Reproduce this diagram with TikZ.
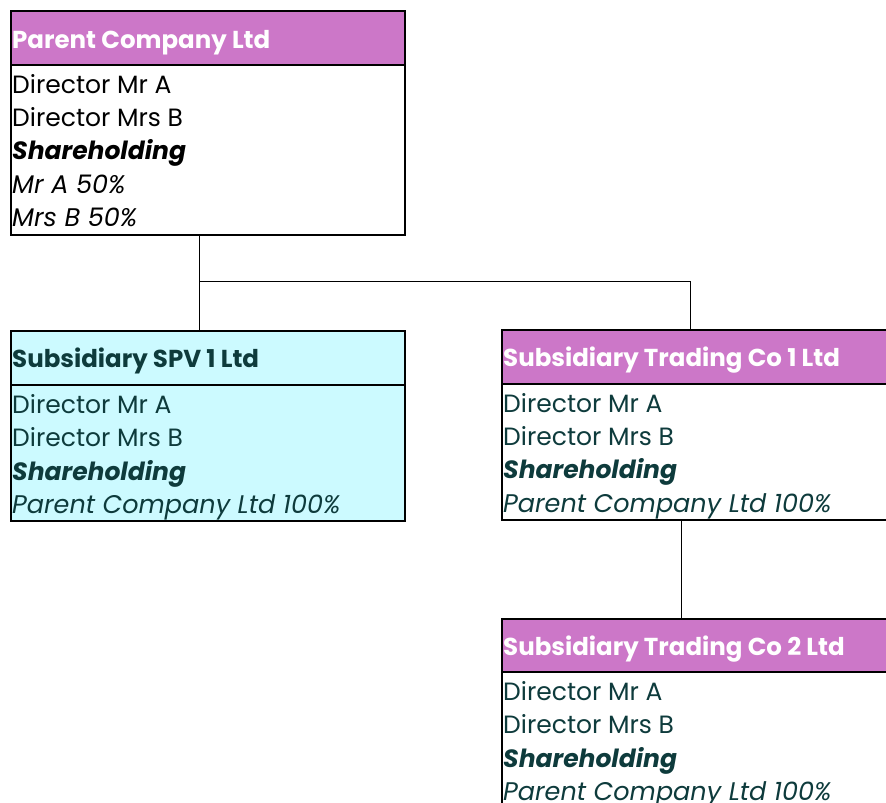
\documentclass[tikz,border=0pt]{standalone}
\usepackage{fontspec}
\setmainfont{Poppins}
\usetikzlibrary{calc}
\definecolor{hdrpink}{HTML}{CC77C8}
\definecolor{spvfill}{HTML}{CCFAFF}
\definecolor{teal}{HTML}{0E3B3C}
\begin{document}
\begin{tikzpicture}[x=1pt,y=-1pt,
  box/.style={draw=black,line width=2pt,anchor=north west,inner sep=0pt,minimum width=394pt},
  hdr/.style={draw=black,line width=2pt,anchor=north west,inner sep=0pt,minimum width=394pt,minimum height=54pt},
  htext/.style={anchor=base west,inner sep=0pt,font=\fontsize{24.5}{28}\selectfont\bfseries},
  btext/.style={anchor=base west,inner sep=0pt,font=\fontsize{25}{28}\selectfont},
  bitext/.style={anchor=base west,inner sep=0pt,font=\fontsize{25.5}{28}\selectfont\itshape},
  bbtext/.style={anchor=base west,inner sep=0pt,font=\fontsize{25}{28}\selectfont\bfseries\itshape},
  link/.style={draw=black,line width=1pt}]
\useasboundingbox (0,0) rectangle (886,803);
\clip (0,0) rectangle (886,803);
\fill[white] (0,0) rectangle (886,803);
% Parent
\node[box,fill=white,minimum height=224pt] (p) at (10,10) {};
\node[hdr,fill=hdrpink] (ph) at (10,10) {};
\node[htext,text=white] (pt) at (12,48) {Parent Company Ltd};
\node[btext,text=black] (p1) at (12,93) {Director Mr A};
\node[btext,text=black] (p2) at (12,126) {Director Mrs B};
\node[bbtext,text=black] (p3) at (12,159) {Shareholding};
\node[bitext,text=black] (p4) at (12,193) {Mr A 50\%};
\node[bitext,text=black] (p5) at (12,226) {Mrs B 50\%};
% SPV
\node[box,fill=spvfill,minimum height=190pt] (s) at (10,330) {};
\node[hdr,fill=spvfill] (sh) at (10,330) {};
\node[htext,text=teal] (st) at (12,367) {Subsidiary SPV 1 Ltd};
\node[btext,text=teal] (s1) at (12,413) {Director Mr A};
\node[btext,text=teal] (s2) at (12,446) {Director Mrs B};
\node[bbtext,text=teal] (s3) at (12,480) {Shareholding};
\node[bitext,text=teal] (s4) at (12,513) {Parent Company Ltd 100\%};
% Trading Co 1
\node[box,fill=white,minimum height=190pt] (t) at (501,329) {};
\node[hdr,fill=hdrpink] (th) at (501,329) {};
\node[htext,text=white] (tt) at (503,366) {Subsidiary Trading Co 1 Ltd};
\node[btext,text=teal] (t1) at (503,412) {Director Mr A};
\node[btext,text=teal] (t2) at (503,445) {Director Mrs B};
\node[bbtext,text=teal] (t3) at (503,478) {Shareholding};
\node[bitext,text=teal] (t4) at (503,512) {Parent Company Ltd 100\%};
% Trading Co 2
\node[box,fill=white,minimum height=250pt] (u) at (501,618) {};
\node[hdr,fill=hdrpink,minimum height=53pt] (uh) at (501,618) {};
\node[htext,text=white] (ut) at (503,655) {Subsidiary Trading Co 2 Ltd};
\node[btext,text=teal] (u1) at (503,700) {Director Mr A};
\node[btext,text=teal] (u2) at (503,733) {Director Mrs B};
\node[bbtext,text=teal] (u3) at (503,767) {Shareholding};
\node[bitext,text=teal] (u4) at (503,800) {Parent Company Ltd 100\%};
% connectors
\coordinate (j) at (199,281);
\coordinate (k) at (690,281);
\draw[link] ($(p.south west)+(189,0)$) -- (j);
\draw[link] (j) -- (s.north west -| j);
\draw[link] (j) -- (k) -- (th.north west -| k);
\draw[link] ($(t.south west)+(180,0)$) -- ($(uh.north west)+(180,0)$);
\end{tikzpicture}
\end{document}
